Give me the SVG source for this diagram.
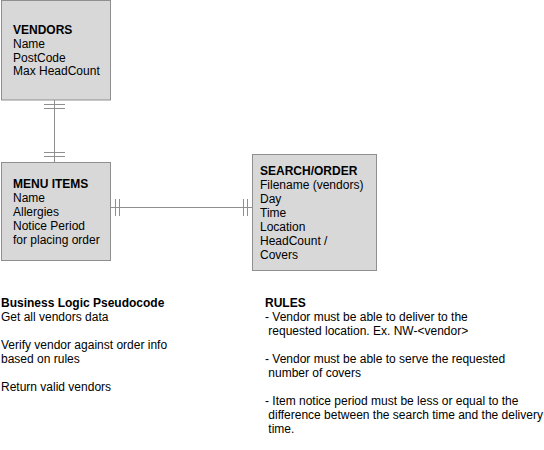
<svg xmlns="http://www.w3.org/2000/svg" width="544" height="450" viewBox="0 0 544 450">
<style>
.box{fill:#d8d8d8;stroke:#8f8f8f;stroke-width:1}
.ln{stroke:#8f8f8f;stroke-width:1;fill:none}
text{font-family:"Liberation Sans",Arial,sans-serif;font-size:12px;fill:#000}
.b{font-weight:bold}
</style>
<rect width="544" height="450" fill="#fff"/>
<g id="connectors">
<path class="ln" d="M54.5 100V162M44 104.5H65M44 108.5H65M44 152.5H65M44 156.5H65"/>
<path class="ln" d="M110.5 207.5H252M115.5 199V216M119.5 199V216M243.5 199V216M247.5 199V216"/>
</g>
<g id="vendors">
<rect class="box" x="1.5" y="0.5" width="109" height="99.5"/>
<text x="13" y="34" class="b">VENDORS</text>
<text x="13" y="48">Name</text>
<text x="13" y="62">PostCode</text>
<text x="13" y="75">Max HeadCount</text>
</g>
<g id="menu-items">
<rect class="box" x="1.5" y="162.5" width="109" height="98"/>
<text x="13" y="188" class="b">MENU ITEMS</text>
<text x="13" y="202">Name</text>
<text x="13" y="216">Allergies</text>
<text x="13" y="230">Notice Period</text>
<text x="13" y="244">for placing order</text>
</g>
<g id="search-order">
<rect class="box" x="252.5" y="154.5" width="124" height="116"/>
<text x="260" y="175" class="b">SEARCH/ORDER</text>
<text x="260" y="189">Filename (vendors)</text>
<text x="260" y="203">Day</text>
<text x="260" y="217">Time</text>
<text x="260" y="231">Location</text>
<text x="260" y="245">HeadCount /</text>
<text x="260" y="259">Covers</text>
</g>
<g id="business-logic">
<text x="1" y="307" class="b">Business Logic Pseudocode</text>
<text x="1" y="321">Get all vendors data</text>
<text x="1" y="349">Verify vendor against order info</text>
<text x="1" y="363">based on rules</text>
<text x="1" y="391">Return valid vendors</text>
</g>
<g id="rules">
<text x="265" y="307" class="b">RULES</text>
<text x="265" y="321">- Vendor must be able to deliver to the</text>
<text x="268.3" y="335">requested location. Ex. NW-&lt;vendor&gt;</text>
<text x="265" y="363">- Vendor must be able to serve the requested</text>
<text x="268.3" y="377">number of covers</text>
<text x="265" y="405">- Item notice period must be less or equal to the</text>
<text x="268.3" y="419">difference between the search time and the delivery</text>
<text x="268.3" y="433">time.</text>
</g>
</svg>
